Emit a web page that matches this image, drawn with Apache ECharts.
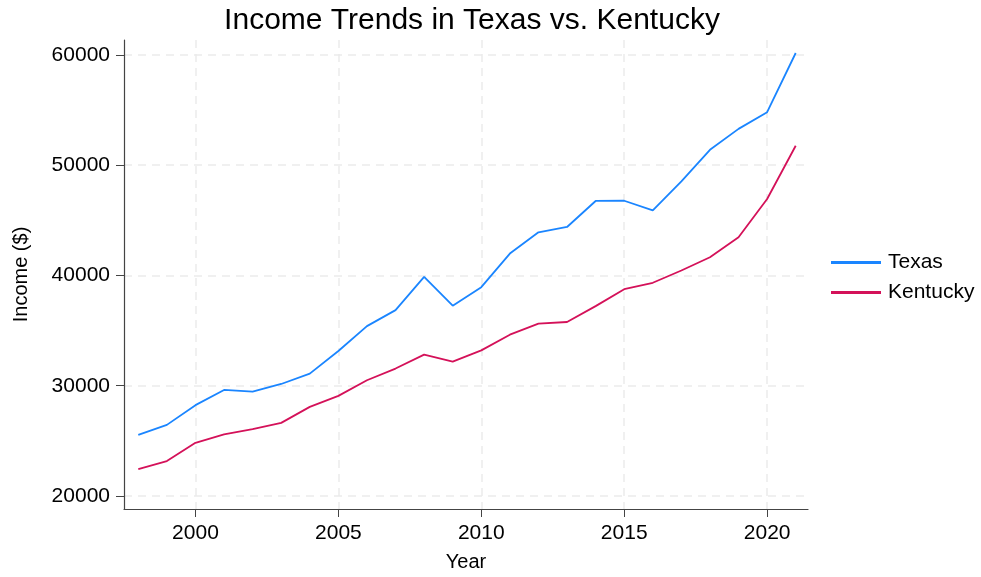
<!DOCTYPE html>
<html>
<head>
<meta charset="utf-8">
<title>Income Trends in Texas vs. Kentucky</title>
<script src="https://cdn.jsdelivr.net/npm/echarts@6/dist/echarts.min.js"></script>
<style>
  html, body { margin: 0; padding: 0; background: #fff; }
  #chart { width: 981px; height: 577px; }
</style>
</head>
<body>
<div id="chart"></div>
<script>
// 数据
var years = [1998, 1999, 2000, 2001, 2002, 2003, 2004, 2005, 2006, 2007, 2008, 2009,
  2010, 2011, 2012, 2013, 2014, 2015, 2016, 2017, 2018, 2019, 2020, 2021];
var texas = [25550, 26450, 28240, 29620, 29470, 30160, 31100, 33150, 35410, 36860, 39880, 37260,
  38940, 41990, 43920, 44400, 46760, 46780, 45910, 48540, 51400, 53300, 54810, 60180];
var kentucky = [22440, 23170, 24820, 25580, 26060, 26630, 28080, 29080, 30500, 31560, 32820, 32190,
  33210, 34630, 35630, 35780, 37220, 38760, 39340, 40450, 41660, 43470, 46940, 51770];
var xTicks = [2000, 2005, 2010, 2015, 2020];
var yTicks = [20000, 30000, 40000, 50000, 60000];

var font = '"Liberation Sans", Arial, sans-serif';

function pairs(vals) {
  var out = [];
  for (var i = 0; i < years.length; i++) out.push([years[i], vals[i]]);
  return out;
}

var chart = echarts.init(document.getElementById('chart'));

var gridLine = { show: true, lineStyle: { color: '#ebebeb', type: [8, 6], width: 1.5 } };
var axisLine = { show: true, onZero: false, lineStyle: { color: '#444', width: 1.2 } };

chart.setOption({
  animation: false,
  textStyle: { fontFamily: font },
  title: {
    text: 'Income Trends in Texas vs. Kentucky',
    left: 467, top: 1, textAlign: 'center',
    textStyle: { fontSize: 30, fontWeight: 'normal', color: '#000', fontFamily: font }
  },
  legend: {
    orient: 'vertical',
    left: 826, top: 247,
    itemWidth: 50, itemHeight: 3, itemGap: 9,
    icon: 'rect',
    textStyle: { fontSize: 21, color: '#000', fontFamily: font, padding: [0, 0, 0, 2] },
    data: ['Texas', 'Kentucky']
  },
  grid: { left: 124, right: 173, top: 40, bottom: 67, containLabel: false },
  xAxis: {
    type: 'value',
    min: 1997.5, max: 2021.43,
    name: 'Year', nameLocation: 'middle', nameGap: 43,
    nameTextStyle: { fontSize: 20, color: '#000', fontFamily: font },
    axisLine: axisLine,
    axisTick: { show: true, length: 8, customValues: xTicks, lineStyle: { color: '#444' } },
    axisLabel: {
      customValues: xTicks, fontSize: 21, color: '#000', margin: 14, fontFamily: font,
      formatter: function (v) { return String(v); }
    },
    splitLine: gridLine
  },
  yAxis: {
    type: 'value',
    min: 18820, max: 61360,
    name: 'Income ($)', nameLocation: 'middle', nameGap: 93, nameRotate: 90,
    nameTextStyle: { fontSize: 20, color: '#000', fontFamily: font },
    axisLine: axisLine,
    axisTick: { show: true, length: 8, customValues: yTicks, lineStyle: { color: '#444' } },
    axisLabel: {
      customValues: yTicks, fontSize: 21, color: '#000', margin: 14, fontFamily: font,
      formatter: function (v) { return String(v); }
    },
    splitLine: gridLine
  },
  series: [
    {
      name: 'Texas', type: 'line', data: pairs(texas),
      showSymbol: false, color: '#1a85ff',
      lineStyle: { width: 1.8, color: '#1a85ff' }
    },
    {
      name: 'Kentucky', type: 'line', data: pairs(kentucky),
      showSymbol: false, color: '#d41159',
      lineStyle: { width: 1.8, color: '#d41159' }
    }
  ]
});
</script>
</body>
</html>
